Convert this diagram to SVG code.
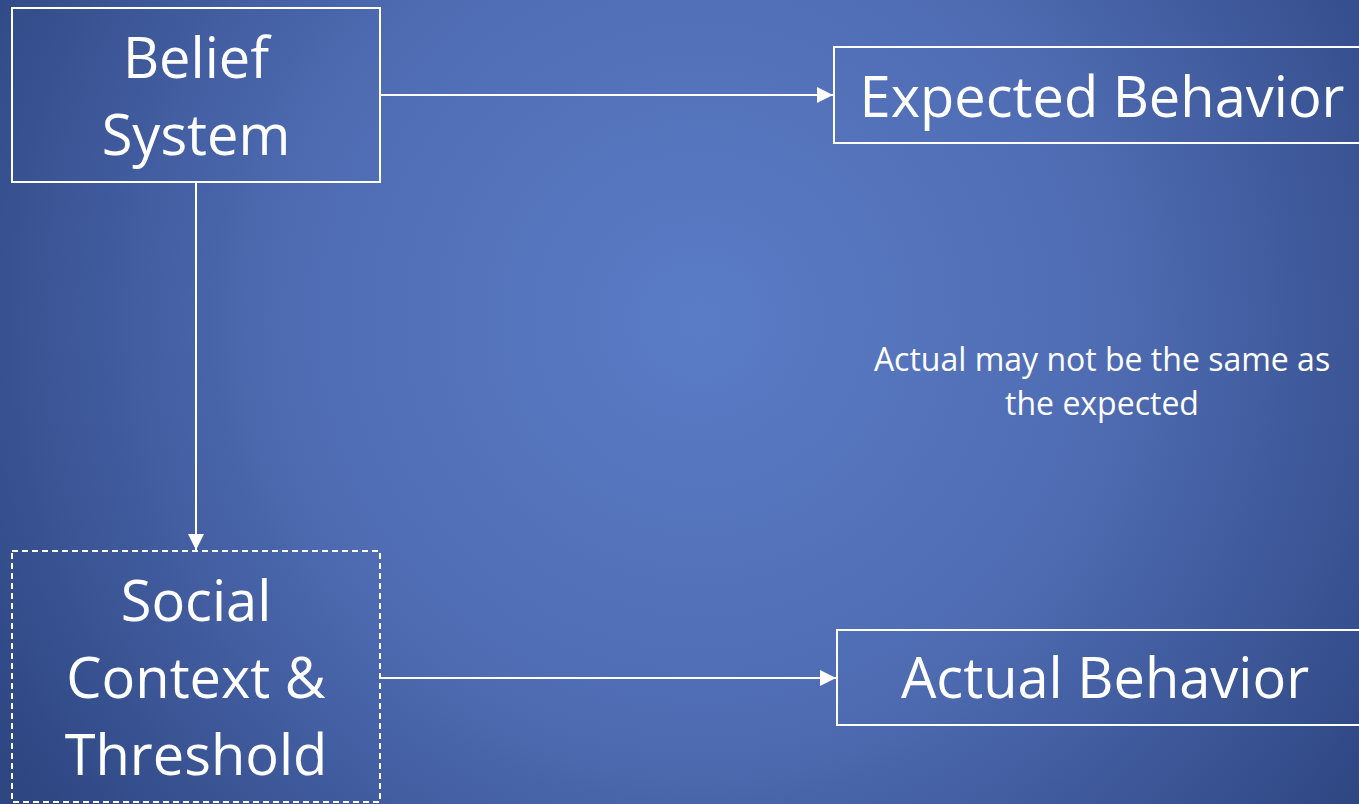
<svg xmlns="http://www.w3.org/2000/svg" width="1359" height="804" viewBox="0 0 1359 804">
<defs>
<radialGradient id="bg" cx="700" cy="320" r="820" gradientUnits="userSpaceOnUse">
<stop offset="0" stop-color="#5A7CC6"/>
<stop offset="0.5" stop-color="#4F6CB3"/>
<stop offset="1" stop-color="#2E4682"/>
</radialGradient>
<marker id="ah" markerWidth="16" markerHeight="16" refX="16" refY="8" orient="auto" markerUnits="userSpaceOnUse">
<path d="M0,0 L16,8 L0,16 Z" fill="#FFFFFF"/>
</marker>
<style>
.box{fill:none;stroke:#FFFFFF;stroke-width:2}
.dash{stroke-dasharray:6 4}
.big{fill:#FFFFFF;font-family:"Open Sans","Noto Sans",sans-serif;font-size:56px;text-anchor:middle}
.small{fill:#FFFFFF;font-family:"Open Sans","Noto Sans",sans-serif;font-size:32px;text-anchor:middle}
.conn{stroke:#FFFFFF;stroke-width:2;fill:none;marker-end:url(#ah)}
</style>
</defs>
<rect width="1359" height="804" fill="url(#bg)"/>
<g id="connectors">
<line class="conn" x1="381" y1="95" x2="833" y2="95"/>
<line class="conn" x1="196" y1="183" x2="196" y2="550"/>
<line class="conn" x1="381" y1="678" x2="836" y2="678"/>
</g>
<g id="belief-system">
<rect class="box" x="12" y="8" width="368" height="174"/>
<text class="big" x="196" y="78">Belief</text>
<text class="big" x="196" y="155">System</text>
</g>
<g id="expected-behavior">
<rect class="box" x="834" y="47" width="540" height="96"/>
<text class="big" x="1102" y="117">Expected Behavior</text>
</g>
<g id="social-context">
<rect class="box dash" x="12" y="551" width="368" height="251"/>
<text class="big" x="196" y="621">Social</text>
<text class="big" x="196" y="698">Context &amp;</text>
<text class="big" x="196" y="775">Threshold</text>
</g>
<g id="actual-behavior">
<rect class="box" x="837" y="630" width="540" height="95"/>
<text class="big" x="1105" y="698">Actual Behavior</text>
</g>
<g id="note">
<text class="small" x="1102" y="371">Actual may not be the same as</text>
<text class="small" x="1102" y="415">the expected</text>
</g>
</svg>
